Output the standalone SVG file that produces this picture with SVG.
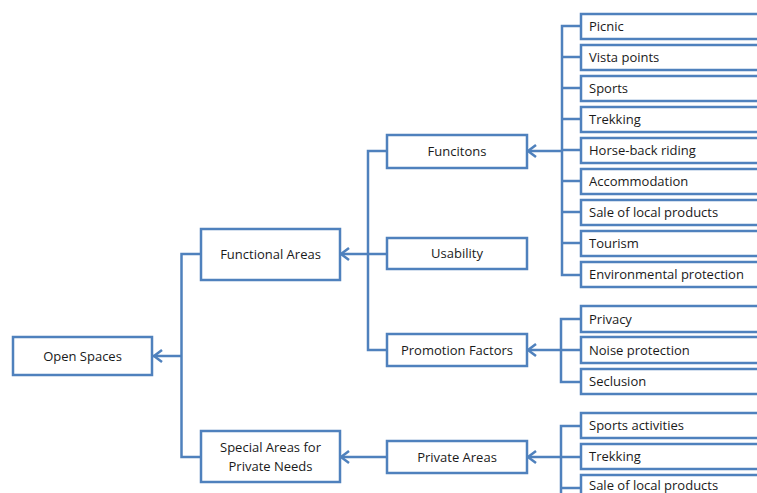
<svg xmlns="http://www.w3.org/2000/svg" width="757" height="493" viewBox="0 0 757 493">
<style>
.box{fill:#fff;stroke:#4f81bd;stroke-width:2.5}
.ln{fill:none;stroke:#4f81bd;stroke-width:2.5}
text{font-family:"Open Sans","Liberation Sans",sans-serif;font-size:13px;fill:#1a1a1a}
.c{text-anchor:middle}
</style>
<g id="connectors">
<path class="ln" d="M201,254 H181.5 V457 H201"/>
<path class="ln" d="M181.5,356 H153"/>
<path class="ln" d="M387,151 H368 V350 H387"/>
<path class="ln" d="M387,254 H341"/>
<path class="ln" d="M387,457 H341"/>
<path class="ln" d="M581,26 H562 V275 H581"/>
<path class="ln" d="M562,57 H581 M562,88 H581 M562,119 H581 M562,150 H581 M562,181 H581 M562,212 H581 M562,243 H581"/>
<path class="ln" d="M562,151 H528"/>
<path class="ln" d="M581,319 H561 V382 H581 M561,350 H581"/>
<path class="ln" d="M561,350 H528"/>
<path class="ln" d="M581,426 H561 V500 M561,457 H581 M561,488 H581"/>
<path class="ln" d="M561,457 H528"/>
<path class="ln" d="M162,350 L154,356 L162,362 M349,248 L341,254 L349,260 M349,451 L341,457 L349,463 M536,145 L528,151 L536,157 M536,344 L528,350 L536,356 M536,451 L528,457 L536,463"/>
</g>
<g id="open-spaces"><rect class="box" x="13" y="337" width="139" height="38"/><text class="c" x="82.5" y="361">Open Spaces</text></g>
<g id="functional-areas"><rect class="box" x="201" y="229" width="139" height="51"/><text class="c" x="270.5" y="259">Functional Areas</text></g>
<g id="special-areas"><rect class="box" x="201" y="431" width="139" height="51"/><text class="c" x="270.5" y="452">Special Areas for</text><text class="c" x="270.5" y="471">Private Needs</text></g>
<g id="funcitons"><rect class="box" x="387" y="135" width="140" height="33"/><text class="c" x="457" y="156">Funcitons</text></g>
<g id="usability"><rect class="box" x="387" y="238" width="140" height="31"/><text class="c" x="457" y="258">Usability</text></g>
<g id="promotion-factors"><rect class="box" x="387" y="334" width="140" height="32"/><text class="c" x="457" y="355">Promotion Factors</text></g>
<g id="private-areas"><rect class="box" x="387" y="441" width="140" height="32"/><text class="c" x="457" y="462">Private Areas</text></g>
<g id="picnic"><rect class="box" x="581" y="14" width="190" height="25"/><text x="589" y="31">Picnic</text></g>
<g id="vista-points"><rect class="box" x="581" y="45" width="190" height="25"/><text x="589" y="62">Vista points</text></g>
<g id="sports"><rect class="box" x="581" y="76" width="190" height="25"/><text x="589" y="93">Sports</text></g>
<g id="trekking"><rect class="box" x="581" y="107" width="190" height="25"/><text x="589" y="124">Trekking</text></g>
<g id="horse-back"><rect class="box" x="581" y="138" width="190" height="25"/><text x="589" y="155">Horse-back riding</text></g>
<g id="accommodation"><rect class="box" x="581" y="169" width="190" height="25"/><text x="589" y="186">Accommodation</text></g>
<g id="sale-local"><rect class="box" x="581" y="200" width="190" height="25"/><text x="589" y="217">Sale of local products</text></g>
<g id="tourism"><rect class="box" x="581" y="231" width="190" height="25"/><text x="589" y="248">Tourism</text></g>
<g id="environmental"><rect class="box" x="581" y="262" width="190" height="25"/><text x="589" y="279">Environmental protection</text></g>
<g id="privacy"><rect class="box" x="581" y="306" width="190" height="26"/><text x="589" y="324">Privacy</text></g>
<g id="noise"><rect class="box" x="581" y="337" width="190" height="26"/><text x="589" y="355">Noise protection</text></g>
<g id="seclusion"><rect class="box" x="581" y="369" width="190" height="25"/><text x="589" y="386">Seclusion</text></g>
<g id="sports-activities"><rect class="box" x="581" y="413" width="190" height="25"/><text x="589" y="430">Sports activities</text></g>
<g id="trekking2"><rect class="box" x="581" y="444" width="190" height="25"/><text x="589" y="461">Trekking</text></g>
<g id="sale-local2"><rect class="box" x="581" y="475" width="190" height="25"/><text x="589" y="490">Sale of local products</text></g>
</svg>
